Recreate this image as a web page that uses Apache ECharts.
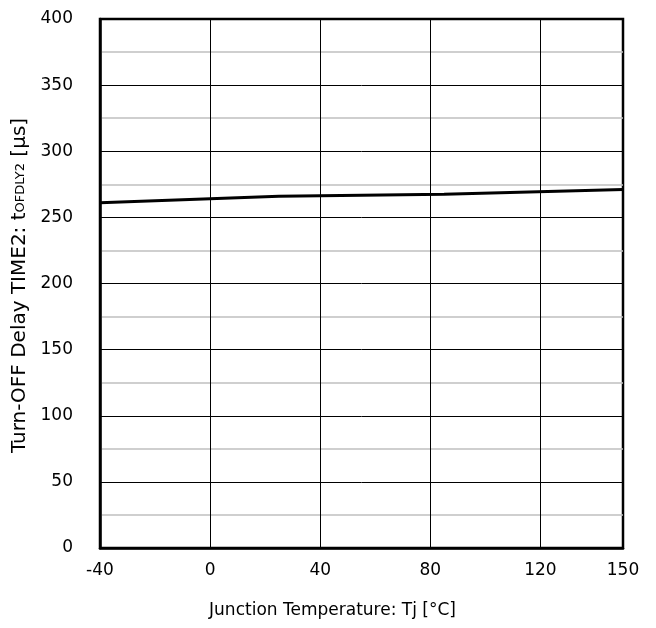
<!DOCTYPE html>
<html><head><meta charset="utf-8">
<script src="https://cdn.jsdelivr.net/npm/echarts@6/dist/echarts.min.js"></script>
<style>html,body{margin:0;padding:0;background:#fff}#c{width:656px;height:628px}</style>
</head><body><div id="c"></div>
<script>
const temps = [-40, 25, 85, 150];
const delay = [261, 266, 267.5, 271];
const xTicks = [-40, 0, 40, 80, 120, 150];
const yTicks = [0, 50, 100, 150, 200, 250, 300, 350, 400];

const font = 'DejaVu Sans';
const chart = echarts.init(document.getElementById('c'));
chart.setOption({
  animation: false,
  grid: {left: 100, right: 33, top: 19, bottom: 80, show: true, borderColor: '#000', borderWidth: 2.5, backgroundColor: '#fff'},
  xAxis: {
    type: 'value', min: xTicks[0], max: xTicks[xTicks.length-1], interval: 40,
    axisLine: {show: true, onZero: false, lineStyle: {color: '#000', width: 2.5}},
    axisTick: {show: false},
    axisLabel: {color: '#000', fontFamily: font, fontSize: 17, margin: 14},
    splitLine: {show: true, lineStyle: {color: '#000', width: 1}},
    name: 'Junction Temperature: Tj [°C]', nameLocation: 'middle', nameGap: 54,
    nameTextStyle: {color: '#000', fontFamily: font, fontSize: 17, padding: [0, 58, 0, 0]}
  },
  yAxis: {
    type: 'value', min: yTicks[0], max: yTicks[yTicks.length-1], interval: 50,
    axisLine: {show: true, onZero: false, lineStyle: {color: '#000', width: 2.5}},
    axisTick: {show: false},
    axisLabel: {color: '#000', fontFamily: font, fontSize: 17, margin: 27},
    splitLine: {show: true, lineStyle: {color: '#000', width: 1}},
    minorTick: {show: false, splitNumber: 2},
    minorSplitLine: {show: true, lineStyle: {color: '#c0c0c0', width: 1.5}},
    name: '{a|Turn-OFF Delay TIME2: t}{s|OFDLY2}{a| [μs]}', nameLocation: 'middle', nameGap: 54, nameRotate: 90,
    nameTextStyle: {color: '#000', fontFamily: font, fontSize: 20, padding: [0, 4, 0, 0],
      rich: {a: {fontFamily: font, fontSize: 20, color: '#000'}, s: {fontFamily: font, fontSize: 13, color: '#000', verticalAlign: 'bottom', padding: [0, 0, 3, 0]}}}
  },
  series: [{
    type: 'line', data: temps.map((t, i) => [t, delay[i]]),
    symbol: 'none', lineStyle: {color: '#000', width: 3}
  }]
});
</script></body></html>
